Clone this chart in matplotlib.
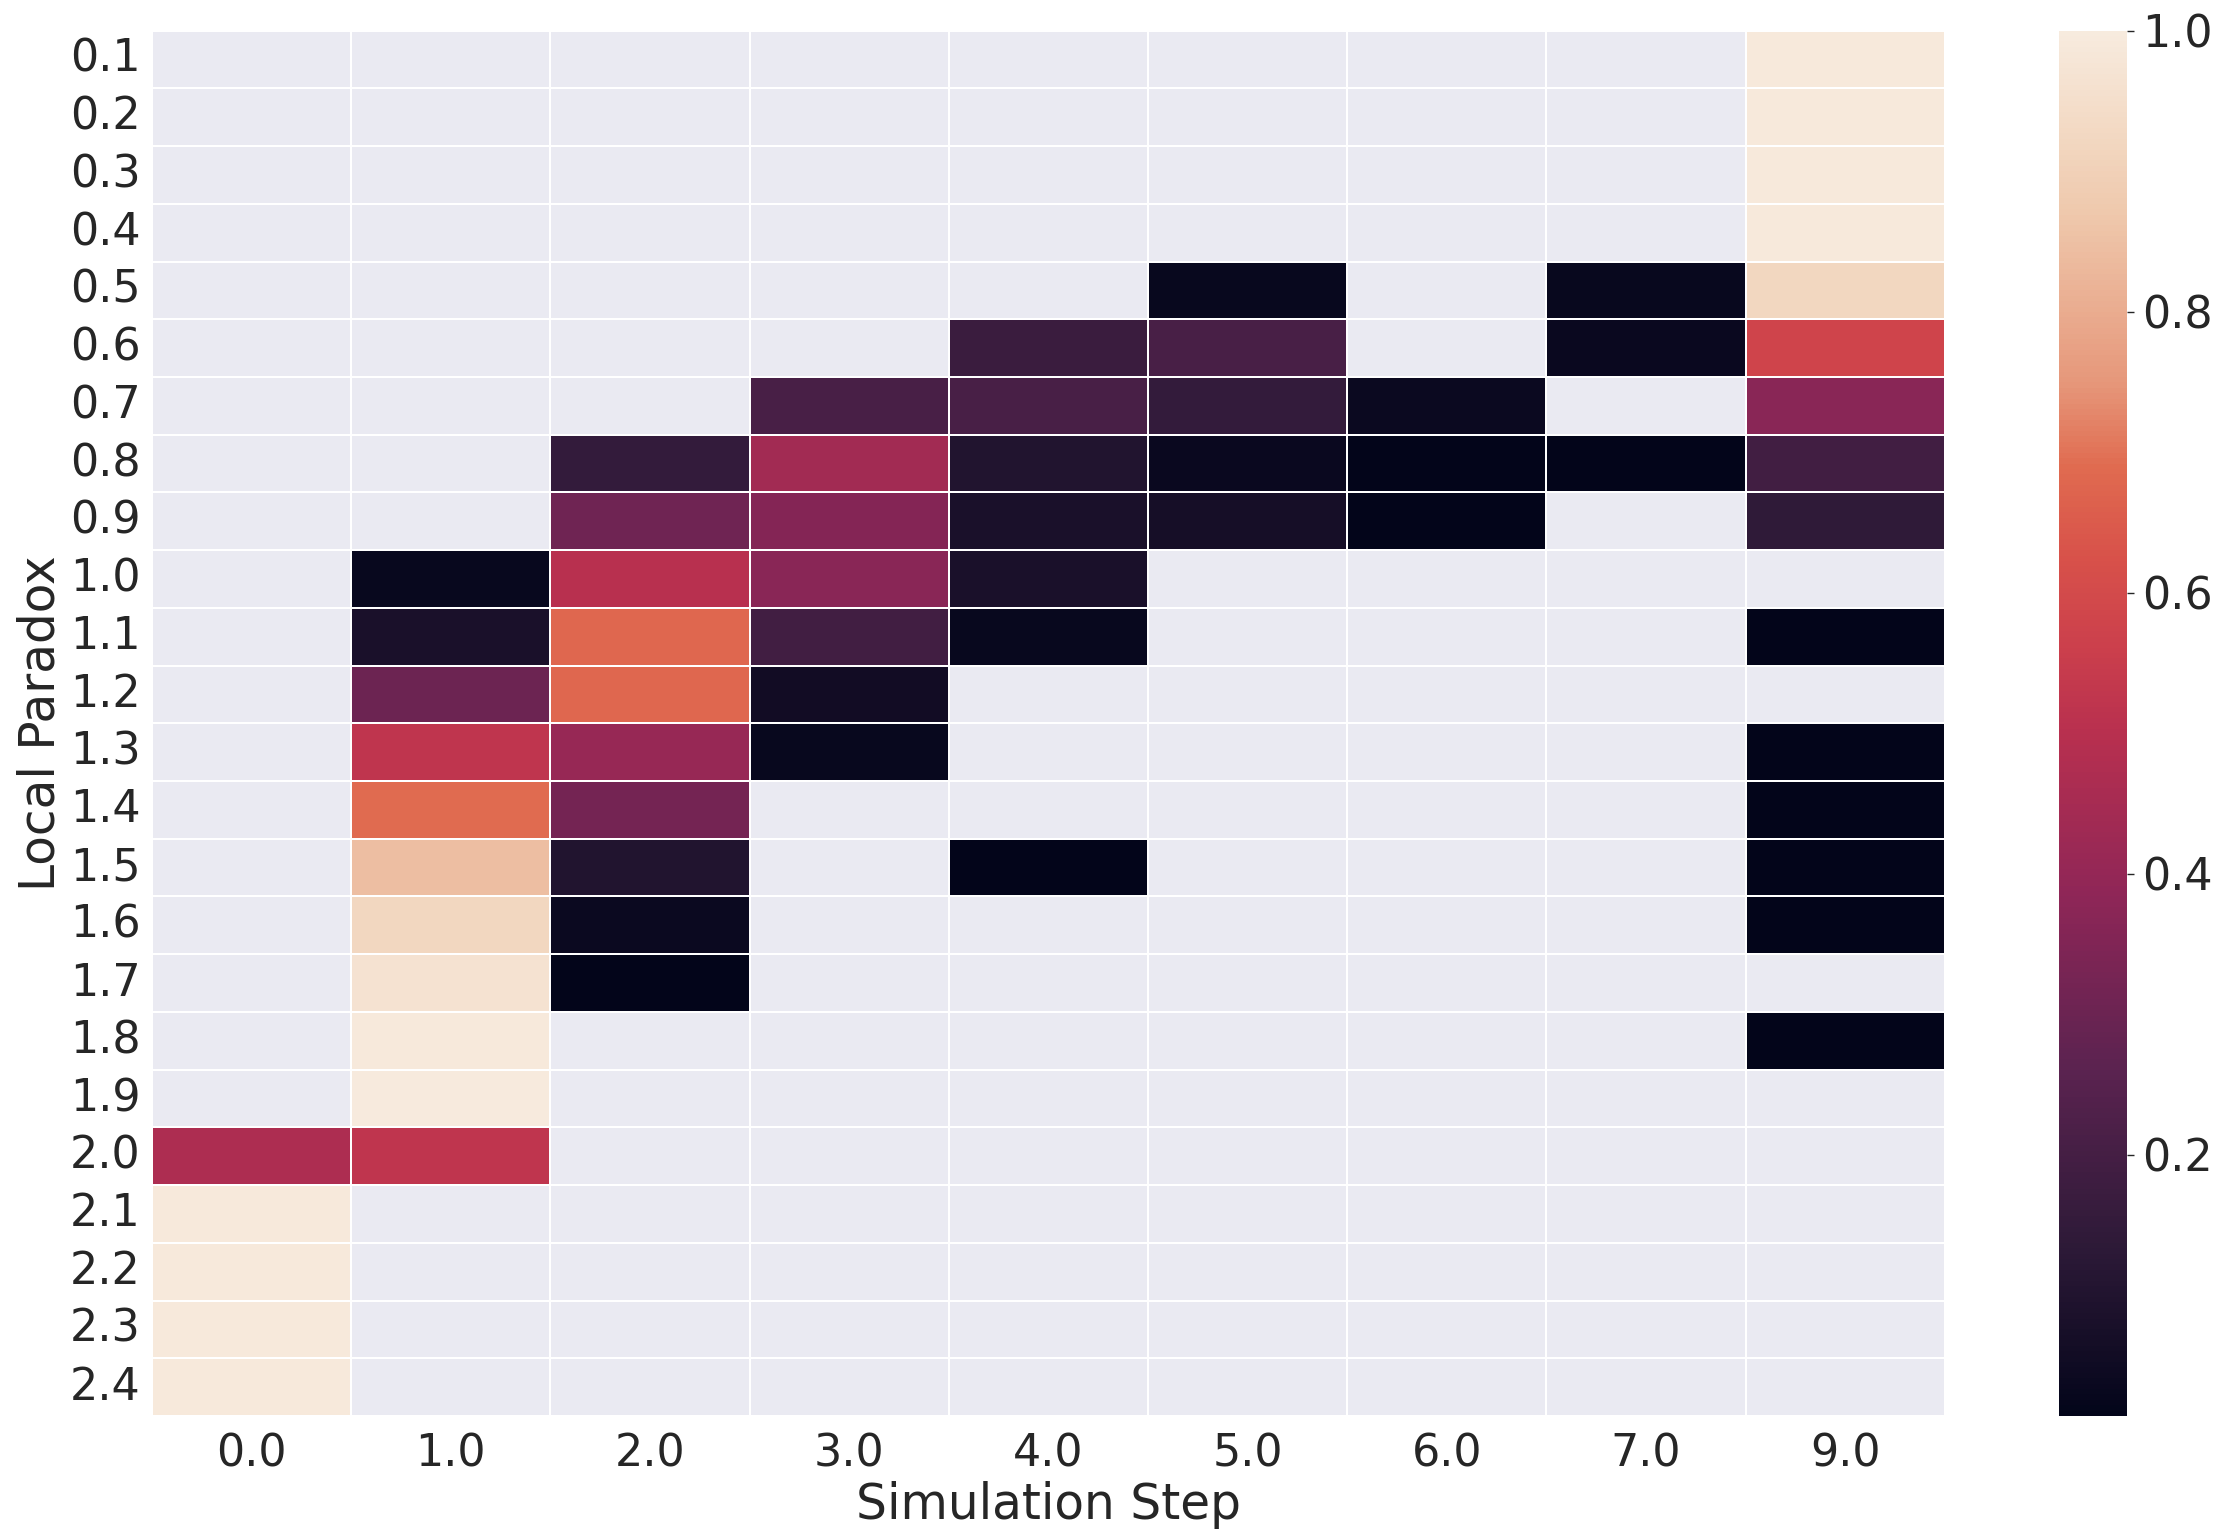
import numpy as np
import pandas as pd
import matplotlib
matplotlib.use("Agg")
import matplotlib.pyplot as plt
from matplotlib.colors import LinearSegmentedColormap
import seaborn as sns

rows = ["0.1", "0.2", "0.3", "0.4", "0.5", "0.6", "0.7", "0.8", "0.9", "1.0", "1.1", "1.2",
        "1.3", "1.4", "1.5", "1.6", "1.7", "1.8", "1.9", "2.0", "2.1", "2.2", "2.3", "2.4"]
cols = ["0.0", "1.0", "2.0", "3.0", "4.0", "5.0", "6.0", "7.0", "9.0"]
N = np.nan

step_0 = [N, N, N, N, N, N, N, N, N, N, N, N, N, N, N, N, N, N, N, 0.47, 0.99, 0.99, 0.99, 0.99]
step_1 = [N, N, N, N, N, N, N, N, N, 0.03, 0.08, 0.30, 0.52, 0.69, 0.845, 0.92, 0.965, 0.99, 0.995, 0.52, N, N, N, N]
step_2 = [N, N, N, N, N, N, N, 0.15, 0.31, 0.50, 0.68, 0.68, 0.41, 0.32, 0.10, 0.04, 0.015, N, N, N, N, N, N, N]
step_3 = [N, N, N, N, N, N, 0.21, 0.44, 0.36, 0.37, 0.19, 0.06, 0.03, N, N, N, N, N, N, N, N, N, N, N]
step_4 = [N, N, N, N, N, 0.17, 0.21, 0.10, 0.08, 0.08, 0.03, N, N, N, 0.015, N, N, N, N, N, N, N, N, N]
step_5 = [N, N, N, N, 0.03, 0.21, 0.15, 0.035, 0.07, N, N, N, N, N, N, N, N, N, N, N, N, N, N, N]
step_6 = [N, N, N, N, N, N, 0.04, 0.015, 0.014, N, N, N, N, N, N, N, N, N, N, N, N, N, N, N]
step_7 = [N, N, N, N, 0.03, 0.035, N, 0.015, N, N, N, N, N, N, N, N, N, N, N, N, N, N, N, N]
step_9 = [0.99, 0.99, 0.99, 0.99, 0.92, 0.58, 0.37, 0.19, 0.14, N, 0.014, N, 0.014, 0.014, 0.014, 0.016, N, 0.014, N, N, N, N, N, N]

df = pd.DataFrame({c: v for c, v in zip(cols, [step_0, step_1, step_2, step_3, step_4,
                                               step_5, step_6, step_7, step_9])}, index=rows)

vmin, vmax = 0.014, 1.0
# soft "rocket"-like colour stops as seen in the reference colour bar
stop_vals = [0.014, 0.136, 0.26, 0.385, 0.50, 0.56, 0.627, 0.69, 0.75, 0.875, 1.0]
stop_cols = ["#03051A", "#2E1A38", "#5B2350", "#8F2657", "#B8304F", "#CB3F4C",
             "#D8524A", "#E06B50", "#E6977A", "#EFCAAE", "#F7EBDE"]
cmap = LinearSegmentedColormap.from_list(
    "soft_rocket", [((v - vmin) / (vmax - vmin), c) for v, c in zip(stop_vals, stop_cols)])

sns.set_theme(style="darkgrid")
plt.rcParams['font.family'] = ['DejaVu Sans']

fig = plt.figure(figsize=(22.2, 15.3), dpi=100)
ax = fig.add_axes([0.0685, 0.0745, 0.8075, 0.9055])
cax = fig.add_axes([0.9275, 0.0745, 0.0306, 0.9055])

sns.heatmap(df, ax=ax, cbar_ax=cax, cmap=cmap, linewidths=1.2, linecolor="white",
            vmin=vmin, vmax=vmax)

ax.set_xlabel("Simulation Step", fontsize=35)
ax.set_ylabel("Local Paradox", fontsize=35)
ax.tick_params(axis="x", labelsize=32, rotation=0, length=0, pad=12)
ax.tick_params(axis="y", labelsize=32, rotation=0, length=0, pad=8)
ax.grid(False)

cax.tick_params(labelsize=32, length=5, width=1, right=True, color="#262626", pad=6)
cax.set_yticks([0.2, 0.4, 0.6, 0.8, 1.0])
cax.set_yticklabels(["0.2", "0.4", "0.6", "0.8", "1.0"])

fig.savefig("out.png", dpi=100)
